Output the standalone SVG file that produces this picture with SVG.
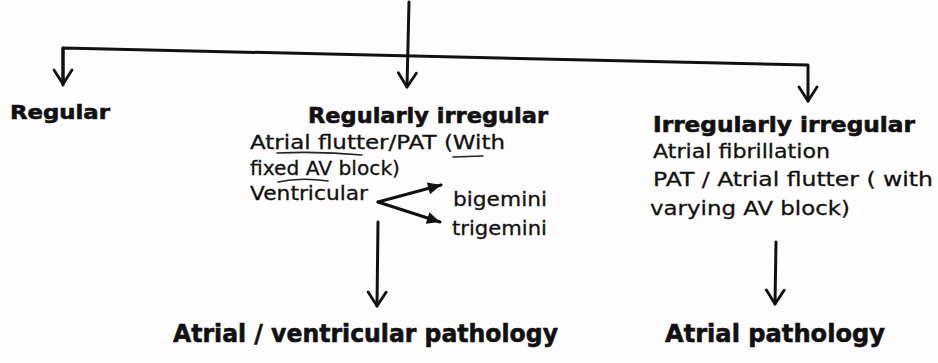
<svg xmlns="http://www.w3.org/2000/svg" width="938" height="363" viewBox="0 0 938 363">
  <defs>
    <style>
      .bg { fill: #fffdfd; }
      .t { font-family: "DejaVu Sans", Verdana, sans-serif; fill: #111; stroke: #111; stroke-width: 0.3; }
      .b { font-weight: bold; stroke-width: 0.6; }
      .c { stroke: #111; stroke-width: 3; fill: none; stroke-linecap: round; stroke-linejoin: round; }
      .ann { stroke: #222; stroke-width: 1.6; fill: none; stroke-linecap: round; }
    </style>
    <marker id="vhead" markerUnits="userSpaceOnUse" viewBox="-16 -11 18 22" markerWidth="18" markerHeight="22" refX="0" refY="0" orient="auto">
      <path d="M-14,-9 L0,0 L-14,9" fill="none" stroke="#111" stroke-width="2.8" stroke-linecap="round" stroke-linejoin="round"/>
    </marker>
    <marker id="fhead" markerUnits="userSpaceOnUse" viewBox="-14 -7 16 14" markerWidth="16" markerHeight="14" refX="0" refY="0" orient="auto">
      <path d="M-13,-6 L0,0 L-13,6 Z" fill="#111"/>
    </marker>
  </defs>
  <rect class="bg" x="0" y="0" width="938" height="363"/>

  <g id="connectors">
    <path class="c" d="M409,2 L407,87" marker-end="url(#vhead)"/>
    <path class="c" d="M63,85 L63,48 L808,65 L808,101" marker-end="url(#vhead)"/>
    <path class="c" d="M63,48 L63,84" marker-end="url(#vhead)"/>
    <path class="c" d="M378,202 L441,185" marker-end="url(#fhead)"/>
    <path class="c" d="M378,202 L440,222" marker-end="url(#fhead)"/>
    <path class="c" d="M378,222 L377,306" marker-end="url(#vhead)"/>
    <path class="c" d="M776,242 L775,304" marker-end="url(#vhead)"/>
  </g>

  <g id="node-regular">
    <text class="t b" x="10" y="119" font-size="20" textLength="100" lengthAdjust="spacingAndGlyphs">Regular</text>
  </g>

  <g id="node-regularly-irregular">
    <text class="t b" x="308" y="123" font-size="21" textLength="240" lengthAdjust="spacingAndGlyphs">Regularly irregular</text>
    <text class="t" x="250" y="149" font-size="20" textLength="255" lengthAdjust="spacingAndGlyphs">Atrial flutter/PAT (With</text>
    <text class="t" x="250" y="175" font-size="20" textLength="150" lengthAdjust="spacingAndGlyphs">fixed AV block)</text>
    <text class="t" x="250" y="200" font-size="20" textLength="118" lengthAdjust="spacingAndGlyphs">Ventricular</text>
    <path class="ann" d="M277,153 Q320,151 362,155"/>
    <path class="ann" d="M453,157 L483,156"/>
    <path class="ann" d="M278,182 Q300,177 328,181"/>
  </g>

  <g id="node-bigemini">
    <text class="t" x="453" y="206" font-size="20" textLength="94" lengthAdjust="spacingAndGlyphs">bigemini</text>
  </g>
  <g id="node-trigemini">
    <text class="t" x="452" y="235" font-size="20" textLength="95" lengthAdjust="spacingAndGlyphs">trigemini</text>
  </g>

  <g id="node-av-pathology">
    <text class="t b" x="173" y="342" font-size="25" textLength="385" lengthAdjust="spacingAndGlyphs">Atrial / ventricular  pathology</text>
  </g>

  <g id="node-irregularly-irregular">
    <text class="t b" x="653" y="132" font-size="21" textLength="262" lengthAdjust="spacingAndGlyphs">Irregularly irregular</text>
    <text class="t" x="653" y="158" font-size="20" textLength="177" lengthAdjust="spacingAndGlyphs">Atrial fibrillation</text>
    <text class="t" x="653" y="186" font-size="20" textLength="280" lengthAdjust="spacingAndGlyphs">PAT / Atrial flutter ( with</text>
    <text class="t" x="650" y="215" font-size="20" textLength="200" lengthAdjust="spacingAndGlyphs">varying AV block)</text>
  </g>

  <g id="node-atrial-pathology">
    <text class="t b" x="665" y="342" font-size="25" textLength="220" lengthAdjust="spacingAndGlyphs">Atrial  pathology</text>
  </g>
</svg>
